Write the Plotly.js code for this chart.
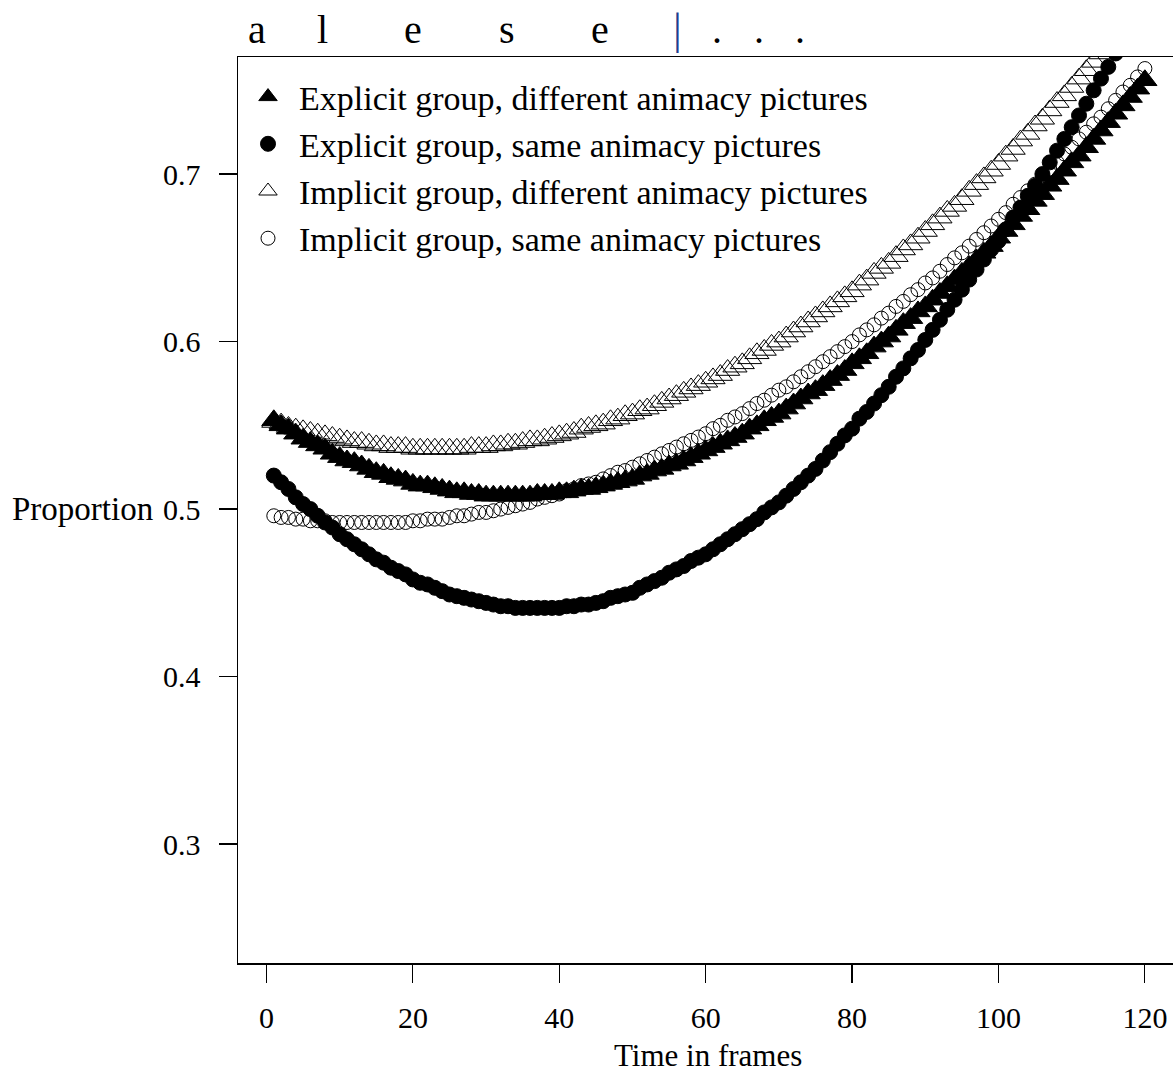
<!DOCTYPE html>
<html>
<head>
<meta charset="utf-8">
<script src="https://cdn.plot.ly/plotly-3.0.1.min.js"></script>
<style>html,body{margin:0;padding:0;background:#fff;}#chart{width:1173px;height:1074px;}</style>
</head>
<body>
<div id="chart"></div>
<script>
const frames = [1,2,3,4,5,6,7,8,9,10,11,12,13,14,15,16,17,18,19,20,21,22,23,24,25,26,27,28,29,30,
31,32,33,34,35,36,37,38,39,40,41,42,43,44,45,46,47,48,49,50,51,52,53,54,55,56,57,58,59,60,
61,62,63,64,65,66,67,68,69,70,71,72,73,74,75,76,77,78,79,80,81,82,83,84,85,86,87,88,89,90,
91,92,93,94,95,96,97,98,99,100,101,102,103,104,105,106,107,108,109,110,111,112,113,114,115,116,117,118,119,120];

const explicitDifferent = [
.553,.550,.548,.545,.542,.540,.538,.536,.533,.531,
.529,.528,.526,.524,.522,.521,.519,.518,.517,.515,
.514,.514,.513,.512,.511,.510,.510,.509,.509,.508,
.508,.508,.508,.508,.508,.508,.509,.509,.509,.510,
.510,.511,.512,.512,.513,.514,.515,.516,.517,.518,
.520,.521,.523,.524,.526,.527,.529,.531,.533,.535,
.537,.539,.541,.543,.545,.548,.550,.553,.555,.557,
.560,.563,.566,.569,.571,.574,.577,.580,.583,.587,
.590,.593,.597,.600,.603,.607,.611,.614,.618,.621,
.625,.629,.633,.637,.641,.645,.649,.653,.657,.662,
.666,.670,.675,.679,.684,.688,.693,.697,.702,.707,
.711,.716,.721,.726,.731,.736,.741,.746,.751,.756];

const explicitSame = [
.520,.516,.512,.507,.503,.500,.496,.492,.489,.485,
.482,.479,.476,.473,.470,.468,.465,.463,.461,.458,
.456,.455,.453,.451,.449,.448,.447,.446,.445,.444,
.443,.442,.442,.441,.441,.441,.441,.441,.441,.441,
.442,.442,.443,.443,.444,.445,.447,.448,.449,.450,
.453,.455,.457,.459,.462,.464,.466,.469,.471,.473,
.476,.479,.482,.485,.488,.491,.494,.498,.501,.504,
.508,.512,.516,.520,.524,.529,.534,.539,.544,.548,
.554,.558,.563,.568,.573,.579,.584,.590,.595,.601,
.607,.613,.619,.625,.631,.637,.643,.649,.655,.660,
.667,.674,.680,.687,.693,.700,.707,.714,.721,.728,
.735,.742,.750,.757,.764,.772,.780,.788,.796,.803];

const implicitDifferent = [
.552,.551,.549,.548,.547,.546,.545,.544,.543,.542,
.541,.540,.540,.539,.538,.538,.537,.537,.537,.536,
.536,.536,.536,.536,.536,.536,.536,.537,.537,.537,
.538,.538,.539,.539,.540,.541,.541,.542,.543,.544,
.545,.546,.548,.549,.550,.551,.553,.554,.556,.557,
.559,.560,.562,.564,.566,.568,.570,.572,.574,.576,
.578,.580,.583,.585,.587,.590,.593,.595,.598,.600,
.603,.606,.609,.612,.615,.618,.621,.624,.627,.630,
.634,.637,.641,.644,.647,.651,.655,.658,.662,.666,
.670,.674,.678,.681,.685,.690,.694,.698,.702,.706,
.711,.715,.720,.724,.729,.733,.738,.743,.747,.752,
.757,.762,.767,.772,.777,.782,.787,.793,.798,.803];

const implicitSame = [
.496,.495,.495,.494,.494,.493,.493,.493,.492,.492,
.492,.492,.492,.492,.492,.492,.492,.492,.492,.493,
.493,.494,.494,.494,.495,.496,.496,.497,.498,.498,
.499,.500,.501,.502,.503,.504,.506,.507,.508,.509,
.511,.512,.514,.515,.516,.518,.520,.522,.523,.525,
.527,.529,.531,.533,.535,.537,.539,.541,.543,.545,
.548,.550,.553,.555,.557,.560,.563,.565,.568,.571,
.573,.576,.579,.582,.585,.588,.591,.594,.597,.600,
.604,.607,.610,.614,.617,.621,.624,.628,.631,.635,
.638,.642,.646,.650,.653,.657,.661,.665,.669,.673,
.677,.682,.686,.690,.694,.699,.703,.707,.712,.716,
.721,.725,.730,.734,.739,.744,.749,.753,.758,.763];

const seriesNames = [
  "Explicit group, different animacy pictures",
  "Explicit group, same animacy pictures",
  "Implicit group, different animacy pictures",
  "Implicit group, same animacy pictures"
];
const xTickVals = [0, 20, 40, 60, 80, 100, 120];
const xTickText = ["0", "20", "40", "60", "80", "100", "120"];
const yTickVals = [0.3, 0.4, 0.5, 0.6, 0.7];
const yTickText = ["0.3", "0.4", "0.5", "0.6", "0.7"];
const titleChars = ["a", "l", "e", "s", "e", "|", ".", ".", "."];
const xTitle = "Time in frames";
const yTitle = "Proportion";

const FONT = "Liberation Serif, Times New Roman, serif";
const titlePx = [257, 322, 413, 507, 600, 677, 717, 759, 800];
const L = 238, T = 57, PW = 935, PH = 906;

const traces = [
  {y: explicitDifferent, symbol: "triangle-up", size: 21},
  {y: explicitSame, symbol: "circle", size: 15},
  {y: implicitDifferent, symbol: "triangle-up-open", size: 21},
  {y: implicitSame, symbol: "circle-open", size: 14}
].map((s, i) => ({
  type: "scatter", mode: "markers", x: frames, y: s.y, name: seriesNames[i],
  marker: {symbol: s.symbol, size: s.size, color: "#000", line: {color: "#000", width: 1}},
  hoverinfo: "skip"
}));

const annotations = titleChars.map((ch, i) => ({
  xref: "paper", yref: "paper", x: (titlePx[i] - L) / PW, y: (T + PH - 29) / PH,
  xanchor: "center", yanchor: "middle", showarrow: false, text: ch,
  font: {family: FONT, size: i === 5 ? 44 : 40, color: i === 5 ? "#1f3f8f" : "#000"}
}));
annotations.push({
  xref: "paper", yref: "paper", x: (155 - L) / PW, y: (T + PH - 509) / PH,
  xanchor: "right", yanchor: "middle", showarrow: false, text: yTitle,
  font: {family: FONT, size: 33, color: "#000"}
});
annotations.push({
  xref: "paper", yref: "paper", x: (708 - L) / PW, y: (T + PH - 1055) / PH,
  xanchor: "center", yanchor: "middle", showarrow: false, text: xTitle,
  font: {family: FONT, size: 31, color: "#000"}
});

const layout = {
  width: 1173, height: 1074, autosize: false,
  margin: {l: L, r: 1173 - L - PW, t: T, b: 1074 - T - PH, pad: 0},
  paper_bgcolor: "#fff", plot_bgcolor: "#fff",
  showlegend: true,
  legend: {
    x: (237 - L) / PW, y: (T + PH - 68) / PH, xanchor: "left", yanchor: "top",
    bgcolor: "rgba(0,0,0,0)", borderwidth: 0, tracegroupgap: 0, itemwidth: 52,
    font: {family: FONT, size: 34, color: "#000"}
  },
  xaxis: {
    range: [-3.89, 123.84], showgrid: false, zeroline: false,
    showline: true, mirror: true, linecolor: "#000", linewidth: 1.5,
    ticks: "outside", ticklen: 18, tickwidth: 1.2, tickcolor: "#000",
    tickvals: xTickVals, ticktext: xTickText, ticklabelstandoff: 9,
    tickfont: {family: FONT, size: 30, color: "#000"}
  },
  yaxis: {
    range: [0.229, 0.7699], showgrid: false, zeroline: false,
    showline: true, mirror: false, linecolor: "#000", linewidth: 1.5,
    ticks: "outside", ticklen: 18, tickwidth: 1.2, tickcolor: "#000",
    tickvals: yTickVals, ticktext: yTickText, ticklabelstandoff: 12,
    tickfont: {family: FONT, size: 30, color: "#000"}
  },
  annotations: annotations
};

Plotly.newPlot("chart", traces, layout, {displayModeBar: false, staticPlot: true});
</script>
</body>
</html>
